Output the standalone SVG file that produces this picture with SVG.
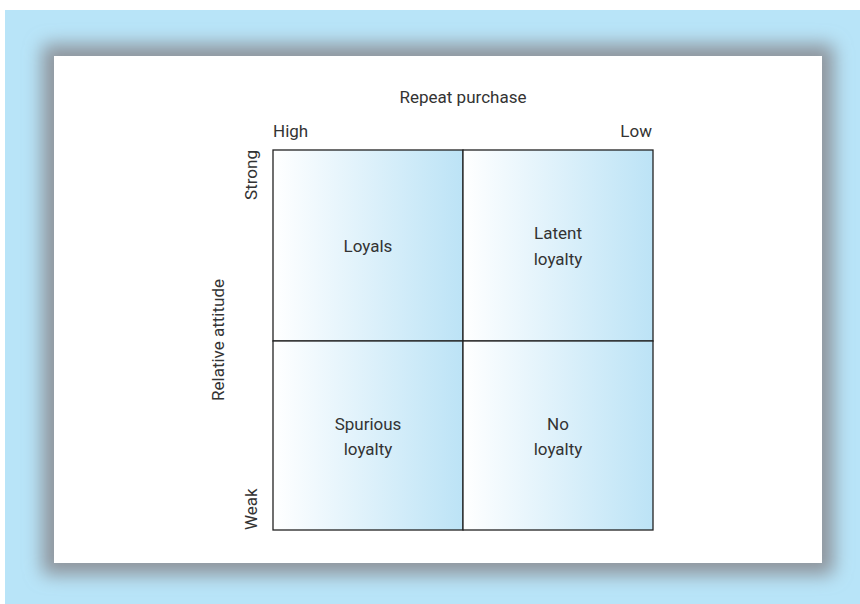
<svg xmlns="http://www.w3.org/2000/svg" width="860" height="604" viewBox="0 0 860 604">
  <style>
    text { font-family: Roboto, "Open Sans", "Liberation Sans", sans-serif; font-size: 17px; fill: #333333; }
    .cell { stroke: #222222; stroke-width: 1.3; }
    .mid { text-anchor: middle; }
  </style>
  <defs>
    <linearGradient id="cellGrad" x1="0" y1="0" x2="1" y2="0">
      <stop offset="0" stop-color="#ffffff"/>
      <stop offset="1" stop-color="#bce3f6"/>
    </linearGradient>
    <filter id="shadow" x="-10%" y="-10%" width="120%" height="120%">
      <feGaussianBlur stdDeviation="9"/>
    </filter>
  </defs>
  <rect x="0" y="0" width="860" height="604" fill="#ffffff"/>
  <rect x="5" y="10" width="855" height="594" fill="#b8e4f8"/>
  <rect x="42" y="44" width="792" height="531" rx="6" fill="#8f959d" filter="url(#shadow)"/>
  <rect x="54" y="56" width="768" height="507" fill="#ffffff"/>

  <text x="463" y="103" class="mid">Repeat purchase</text>
  <text x="273" y="137">High</text>
  <text x="652" y="137" text-anchor="end">Low</text>
  <text transform="translate(257,150) rotate(-90)" text-anchor="end">Strong</text>
  <text transform="translate(257,530) rotate(-90)">Weak</text>
  <text transform="translate(224,340) rotate(-90)" class="mid">Relative attitude</text>

  <g id="loyals">
    <rect class="cell" x="273" y="150" width="190" height="191" fill="url(#cellGrad)"/>
    <text x="368" y="252" class="mid">Loyals</text>
  </g>
  <g id="latent-loyalty">
    <rect class="cell" x="463" y="150" width="190" height="191" fill="url(#cellGrad)"/>
    <text x="558" y="239" class="mid">Latent</text>
    <text x="558" y="265" class="mid">loyalty</text>
  </g>
  <g id="spurious-loyalty">
    <rect class="cell" x="273" y="341" width="190" height="189" fill="url(#cellGrad)"/>
    <text x="368" y="430" class="mid">Spurious</text>
    <text x="368" y="455" class="mid">loyalty</text>
  </g>
  <g id="no-loyalty">
    <rect class="cell" x="463" y="341" width="190" height="189" fill="url(#cellGrad)"/>
    <text x="558" y="430" class="mid">No</text>
    <text x="558" y="455" class="mid">loyalty</text>
  </g>
  <g id="connectors"></g>
</svg>
